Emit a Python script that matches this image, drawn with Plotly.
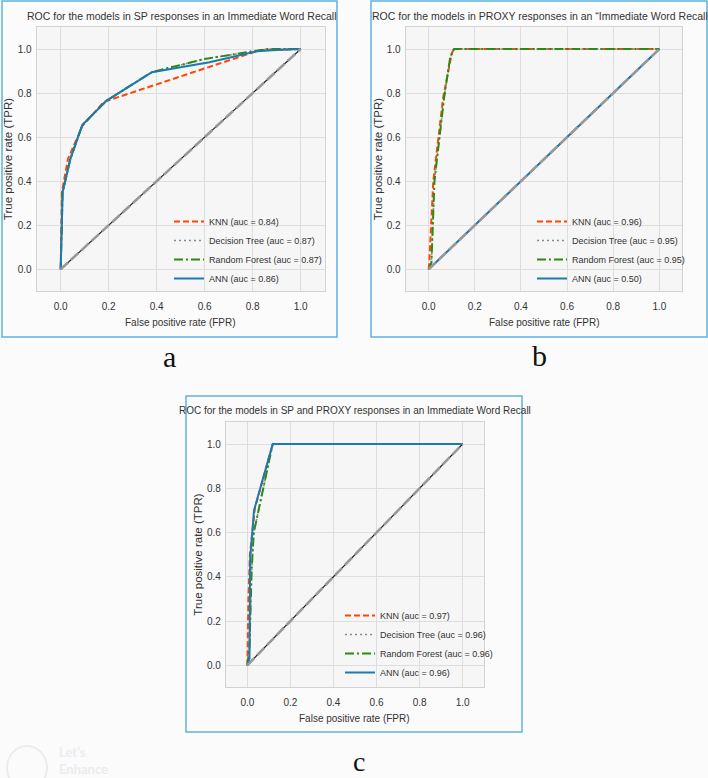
import plotly.graph_objects as go

W, H = 708, 778

# ---------------- data ----------------
models = ["KNN", "Decision Tree", "Random Forest", "ANN"]
chance_fpr = [0.0, 1.0]
chance_tpr = [0.0, 1.0]

# panel a: SP responses
auc_a = [0.84, 0.87, 0.87, 0.86]
fpr_knn_a = [0.0, 0.005, 0.03, 0.09, 0.18, 0.83, 1.0]
tpr_knn_a = [0.0, 0.35, 0.50, 0.65, 0.76, 0.995, 1.0]
fpr_dt_a = [0.0, 0.008, 0.04, 0.09, 0.19, 0.38, 0.60, 0.86, 1.0]
tpr_dt_a = [0.0, 0.35, 0.50, 0.655, 0.765, 0.895, 0.955, 1.0, 1.0]
fpr_rf_a = [0.0, 0.008, 0.04, 0.09, 0.19, 0.38, 0.60, 0.86, 1.0]
tpr_rf_a = [0.0, 0.35, 0.50, 0.655, 0.765, 0.895, 0.955, 1.0, 1.0]
fpr_ann_a = [0.0, 0.008, 0.04, 0.09, 0.19, 0.38, 0.62, 0.82, 0.88, 1.0]
tpr_ann_a = [0.0, 0.35, 0.50, 0.655, 0.765, 0.895, 0.94, 0.99, 0.995, 1.0]

# panel b: PROXY responses
auc_b = [0.96, 0.95, 0.95, 0.50]
fpr_knn_b = [0.0, 0.003, 0.02, 0.063, 0.10, 0.11, 1.0]
tpr_knn_b = [0.0, 0.04, 0.40, 0.78, 0.98, 1.0, 1.0]
fpr_dt_b = [0.0, 0.012, 0.025, 0.067, 0.093, 0.11, 1.0]
tpr_dt_b = [0.0, 0.03, 0.40, 0.78, 0.96, 1.0, 1.0]
fpr_rf_b = [0.0, 0.012, 0.025, 0.067, 0.093, 0.11, 1.0]
tpr_rf_b = [0.0, 0.03, 0.40, 0.78, 0.96, 1.0, 1.0]
fpr_ann_b = [0.0, 1.0]
tpr_ann_b = [0.0, 1.0]

# panel c: SP and PROXY responses
auc_c = [0.97, 0.96, 0.96, 0.96]
fpr_knn_c = [0.0, 0.005, 0.012, 0.025, 0.035, 0.118, 1.0]
tpr_knn_c = [0.0, 0.30, 0.50, 0.63, 0.71, 1.0, 1.0]
fpr_dt_c = [0.0, 0.01, 0.02, 0.03, 0.118, 1.0]
tpr_dt_c = [0.0, 0.08, 0.43, 0.60, 1.0, 1.0]
fpr_rf_c = [0.0, 0.01, 0.02, 0.03, 0.118, 1.0]
tpr_rf_c = [0.0, 0.08, 0.43, 0.60, 1.0, 1.0]
fpr_ann_c = [0.0, 0.01, 0.013, 0.031, 0.118, 1.0]
tpr_ann_c = [0.0, 0.03, 0.48, 0.70, 1.0, 1.0]

titles = [
    "ROC for the models in SP responses in an Immediate Word Recall",
    "ROC for the models in PROXY responses in an \u201cImmediate Word Recall",
    "ROC for the models in SP and PROXY responses in an Immediate Word Recall",
]
panel_labels = ["a", "b", "c"]
tick_vals = [0.0, 0.2, 0.4, 0.6, 0.8, 1.0]
tick_text = ["0.0", "0.2", "0.4", "0.6", "0.8", "1.0"]

# ---------------- styles ----------------
SANS = "Liberation Sans, Arial, sans-serif"
TXT = "#333333"
styles = [
    dict(color="#ff4500", width=2, dash="6px,3px"),
    dict(color="#8a8a8a", width=1.6, dash="2px,3px"),
    dict(color="#2a8a12", width=2, dash="9px,3px,2px,3px"),
    dict(color="#1f78ae", width=2, dash="solid"),
]

def px2x(p):
    return p / W

def px2y(p):
    return 1 - p / H

# plot area boxes in pixels: (left, right, top, bottom)
boxes = [(36.7, 324.7, 27.0, 291.3), (405.6, 682.4, 27.0, 291.3), (225.8, 484.2, 421.9, 687.4)]
frames = [(2, 337, 1, 337), (371, 707, 1, 337), (186, 522, 396, 732)]
title_pos = [(182, 16), (540, 16), (355, 411)]
title_size = [10.5, 10.5, 10]
label_pos = [(169, 356), (539, 355)]
legend_pos = [(169, 207), (532, 207), (340, 601)]
xtitle_y = [323, 323, 718]
ytitle_x = [8, 378, 198]

fig = go.Figure()

panels = [
    (auc_a, [(fpr_knn_a, tpr_knn_a), (fpr_dt_a, tpr_dt_a), (fpr_rf_a, tpr_rf_a), (fpr_ann_a, tpr_ann_a)]),
    (auc_b, [(fpr_knn_b, tpr_knn_b), (fpr_dt_b, tpr_dt_b), (fpr_rf_b, tpr_rf_b), (fpr_ann_b, tpr_ann_b)]),
    (auc_c, [(fpr_knn_c, tpr_knn_c), (fpr_dt_c, tpr_dt_c), (fpr_rf_c, tpr_rf_c), (fpr_ann_c, tpr_ann_c)]),
]

annotations = []
shapes = []
for i, (aucs, curves) in enumerate(panels):
    sfx = "" if i == 0 else str(i + 1)
    xa, ya = "x" + sfx, "y" + sfx
    leg = "legend" + sfx
    # chance diagonal: black thin under, gray dashed on top
    fig.add_trace(go.Scatter(x=chance_fpr, y=chance_tpr, mode="lines", xaxis=xa, yaxis=ya,
                             line=dict(color="#222222", width=1.2), showlegend=False, hoverinfo="skip"))
    for k in range(4):
        fx, ty = curves[k]
        fig.add_trace(go.Scatter(
            x=fx, y=ty, mode="lines", xaxis=xa, yaxis=ya,
            name=f"{models[k]} (auc = {aucs[k]:.2f})",
            line=styles[k], legend=leg, showlegend=True))
    fig.add_trace(go.Scatter(x=chance_fpr, y=chance_tpr, mode="lines", xaxis=xa, yaxis=ya,
                             line=dict(color="#999999", width=2.6, dash="10px,4px"),
                             showlegend=False, hoverinfo="skip"))

    l, r, t, b = boxes[i]
    axcommon = dict(range=[-0.1, 1.1], tickvals=tick_vals, ticktext=tick_text,
                    showgrid=True, gridcolor="#dedede", gridwidth=1, zeroline=False,
                    showline=True, mirror=True, linecolor="#d2d2d2", linewidth=1,
                    showticklabels=True, ticks="",
                    tickfont=dict(family=SANS, size=10, color=TXT))
    fig.layout["xaxis" + sfx] = dict(axcommon, domain=[px2x(l), px2x(r)],
                                     anchor=ya, ticklabelstandoff=6)
    fig.layout["yaxis" + sfx] = dict(axcommon, domain=[px2y(b), px2y(t)],
                                     anchor=xa, ticklabelstandoff=2)

    lx, ly = legend_pos[i]
    fig.layout[leg] = dict(x=px2x(lx), y=px2y(ly), xanchor="left", yanchor="top",
                           bgcolor="rgba(0,0,0,0)", borderwidth=0,
                           font=dict(family=SANS, size=9, color=TXT),
                           tracegroupgap=0, itemwidth=30)

    tx, ty_ = title_pos[i]
    annotations.append(dict(text=titles[i], x=px2x(tx), y=px2y(ty_), xref="paper", yref="paper",
                            showarrow=False, xanchor="center", yanchor="middle",
                            font=dict(family=SANS, size=title_size[i], color=TXT)))
    annotations.append(dict(text="False positive rate (FPR)", x=px2x((l + r) / 2), y=px2y(xtitle_y[i]),
                            xref="paper", yref="paper", showarrow=False,
                            xanchor="center", yanchor="middle",
                            font=dict(family=SANS, size=10, color=TXT)))
    annotations.append(dict(text="True positive rate (TPR)", x=px2x(ytitle_x[i]), y=px2y((t + b) / 2),
                            xref="paper", yref="paper", showarrow=False, textangle=-90,
                            xanchor="center", yanchor="middle",
                            font=dict(family=SANS, size=11.5, color=TXT)))
    if i < 2:
        px_, py_ = label_pos[i]
        annotations.append(dict(text=panel_labels[i], x=px2x(px_), y=px2y(py_), xref="paper", yref="paper",
                                showarrow=False, xanchor="center", yanchor="middle",
                                font=dict(family="Liberation Serif, Times New Roman, serif", size=30, color="#111111")))
    else:
        annotations.append(dict(text=panel_labels[i], x=px2x(359), y=0, xref="paper", yref="paper",
                                showarrow=False, xanchor="center", yanchor="bottom", borderpad=0,
                                font=dict(family="Liberation Serif, Times New Roman, serif", size=28, color="#111111")))
    fl, fr, ft, fb = frames[i]
    shapes.append(dict(type="rect", xref="paper", yref="paper",
                       x0=px2x(fl), x1=px2x(fr), y0=px2y(fb), y1=px2y(ft),
                       line=dict(color="#5db3e0", width=1.5), fillcolor="rgba(0,0,0,0)", layer="below"))

# faint watermark
annotations.append(dict(text="<b>Let's<br>Enhance</b>", x=px2x(57), y=px2y(760), xref="paper", yref="paper",
                        showarrow=False, xanchor="left", yanchor="middle", align="left",
                        font=dict(family="Lato, sans-serif", size=13, color="#ececf0")))
shapes.append(dict(type="circle", xref="paper", yref="paper",
                   x0=px2x(7), x1=px2x(47), y0=px2y(790), y1=px2y(746),
                   line=dict(color="#ececf0", width=2)))

fig.update_layout(
    width=W, height=H,
    margin=dict(l=0, r=0, t=0, b=0),
    paper_bgcolor="#fbfbfb",
    plot_bgcolor="#f6f6f6",
    annotations=annotations,
    shapes=shapes,
    showlegend=True,
)

fig.write_html("out.html", config={"displayModeBar": False},
               post_script="document.body.style.margin='0px';")
